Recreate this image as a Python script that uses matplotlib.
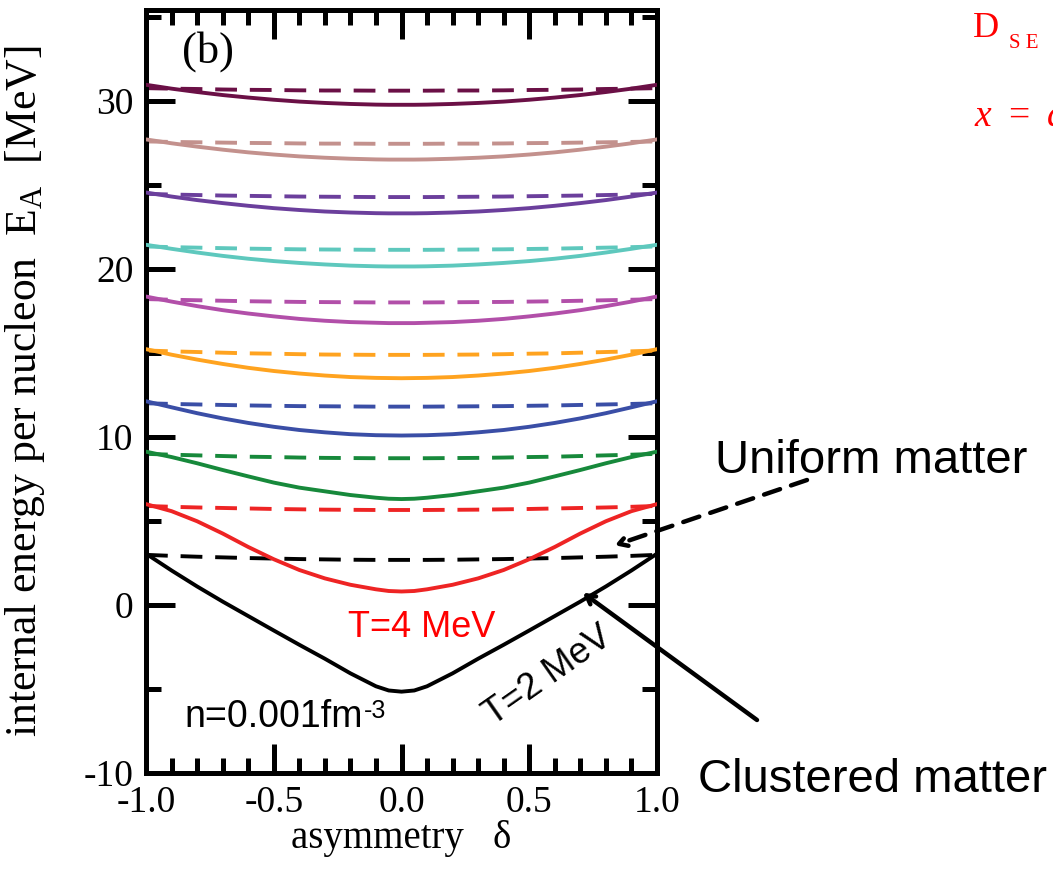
import numpy as np
import matplotlib
matplotlib.use("Agg")
import matplotlib.pyplot as plt
from matplotlib.ticker import MultipleLocator

# Asymmetry grid (delta >= 0); every curve is symmetric in delta
delta_half = [0.0, 0.05, 0.1, 0.2, 0.3, 0.4, 0.5, 0.6, 0.7, 0.8, 0.9, 1.0]

temperatures = [2, 4, 6, 8, 10, 12, 14, 16, 18, 20]
colors = ["#000000", "#ee2424", "#17893b", "#3a4ea6", "#ffa31f",
          "#b24fa9", "#5ec8bd", "#6b3f9c", "#c3918d", "#6b1046"]

# Clustered matter (solid lines), internal energy per nucleon [MeV]
clustered_T2 = [-5.16, -5.09, -4.84, -4.07, -3.2, -2.37, -1.52, -0.66, 0.2, 1.1, 2.05, 3.05]
clustered_T4 = [0.8, 0.83, 0.93, 1.2, 1.58, 2.08, 2.72, 3.45, 4.25, 4.98, 5.58, 6.0]
clustered_T6 = [6.3, 6.32, 6.38, 6.54, 6.76, 6.98, 7.28, 7.65, 8.03, 8.43, 8.8, 9.12]
clustered_T8 = [10.08, 10.09, 10.1, 10.16, 10.27, 10.41, 10.6, 10.83, 11.1, 11.41, 11.76, 12.12]
clustered_T10 = [13.49, 13.5, 13.51, 13.56, 13.65, 13.77, 13.92, 14.11, 14.34, 14.6, 14.89, 15.22]
clustered_T12 = [16.77, 16.77, 16.79, 16.83, 16.91, 17.02, 17.17, 17.34, 17.54, 17.78, 18.05, 18.35]
clustered_T14 = [20.14, 20.14, 20.15, 20.19, 20.26, 20.35, 20.46, 20.6, 20.77, 20.97, 21.19, 21.43]
clustered_T16 = [23.3, 23.3, 23.31, 23.35, 23.41, 23.5, 23.61, 23.75, 23.91, 24.09, 24.3, 24.54]
clustered_T18 = [26.5, 26.5, 26.51, 26.55, 26.61, 26.69, 26.8, 26.93, 27.09, 27.27, 27.47, 27.7]
clustered_T20 = [29.76, 29.76, 29.77, 29.81, 29.87, 29.95, 30.06, 30.19, 30.34, 30.52, 30.72, 30.95]

# Uniform matter (dashed lines)
uniform_T2 = [2.68, 2.68, 2.68, 2.69, 2.71, 2.73, 2.76, 2.79, 2.83, 2.87, 2.92, 2.98]
uniform_T4 = [5.65, 5.65, 5.65, 5.66, 5.67, 5.69, 5.71, 5.74, 5.77, 5.8, 5.84, 5.89]
uniform_T6 = [8.73, 8.73, 8.73, 8.74, 8.75, 8.77, 8.8, 8.82, 8.86, 8.9, 8.94, 8.99]
uniform_T8 = [11.8, 11.8, 11.8, 11.81, 11.82, 11.83, 11.85, 11.87, 11.9, 11.93, 11.96, 12.0]
uniform_T10 = [14.88, 14.88, 14.88, 14.89, 14.9, 14.92, 14.95, 14.97, 15.01, 15.05, 15.09, 15.14]
uniform_T12 = [18.0, 18.0, 18.0, 18.01, 18.02, 18.03, 18.05, 18.07, 18.1, 18.13, 18.16, 18.2]
uniform_T14 = [21.13, 21.13, 21.13, 21.14, 21.15, 21.16, 21.18, 21.2, 21.23, 21.26, 21.29, 21.33]
uniform_T16 = [24.27, 24.27, 24.27, 24.28, 24.29, 24.3, 24.32, 24.34, 24.36, 24.39, 24.42, 24.46]
uniform_T18 = [27.44, 27.44, 27.44, 27.45, 27.45, 27.46, 27.48, 27.49, 27.51, 27.53, 27.55, 27.58]
uniform_T20 = [30.6, 30.6, 30.6, 30.61, 30.61, 30.62, 30.64, 30.65, 30.67, 30.7, 30.72, 30.75]

clustered = [clustered_T2, clustered_T4, clustered_T6, clustered_T8, clustered_T10,
             clustered_T12, clustered_T14, clustered_T16, clustered_T18, clustered_T20]
uniform = [uniform_T2, uniform_T4, uniform_T6, uniform_T8, uniform_T10,
           uniform_T12, uniform_T14, uniform_T16, uniform_T18, uniform_T20]

x_ticks = [-1.0, -0.5, 0.0, 0.5, 1.0]
x_ticklabels = ["-1.0", "-0.5", "0.0", "0.5", "1.0"]
y_ticks = [-10, 0, 10, 20, 30]
y_ticklabels = ["-10", "0", "10", "20", "30"]


def mirrored(half):
    h = np.asarray(half, dtype=float)
    return np.concatenate([h[:0:-1], h])


delta_full = np.concatenate([-np.asarray(delta_half)[:0:-1], np.asarray(delta_half)])

plt.rcParams["mathtext.fontset"] = "custom"
plt.rcParams["mathtext.rm"] = "Liberation Serif"
plt.rcParams["mathtext.it"] = "Liberation Serif:italic"

W, H = 1053, 876
fig = plt.figure(figsize=(W / 100, H / 100), dpi=100)
ax = fig.add_axes([146 / W, 1 - 773 / H, (657 - 146) / W, (773 - 10) / H])

serif = "Liberation Serif"
sans = "Liberation Sans"

for c_vals, u_vals, col in zip(clustered, uniform, colors):
    ax.plot(delta_full, mirrored(u_vals), color=col, lw=2.8,
            dashes=(5.6, 3.3), dash_capstyle="butt", zorder=2)
    ax.plot(delta_full, mirrored(c_vals), color=col, lw=2.8, zorder=3)

ax.set_xlim(-1.0, 1.0)
ax.set_ylim(-10, 35.4)
ax.set_xticks(x_ticks)
ax.set_xticklabels(x_ticklabels, family=serif, fontsize=27)
ax.set_yticks(y_ticks)
ax.set_yticklabels(y_ticklabels, family=serif, fontsize=27)
ax.xaxis.set_minor_locator(MultipleLocator(0.1))
ax.yaxis.set_minor_locator(MultipleLocator(5))
ax.tick_params(which="both", direction="in", top=True, right=True, width=3.6, color="black")
ax.tick_params(which="major", length=21, pad=9)
ax.tick_params(which="minor", length=11)
for sp in ax.spines.values():
    sp.set_linewidth(3.6)

ax.set_xlabel("asymmetry   \u03b4", family=serif, fontsize=28)
ax.xaxis.set_label_coords(0.5, -0.061)
ax.set_ylabel(r"internal energy per nucleon  E$_{\rm A}$  [MeV]", family=serif, fontsize=31.5)
ax.yaxis.set_label_coords(-0.193, 0.5)

ax.text(0.07, 0.972, "(b)", transform=ax.transAxes, family=serif, fontsize=32,
        ha="left", va="top")

n_label = ax.text(0.075, 0.06, "n=0.001fm", transform=ax.transAxes,
                  family=sans, fontsize=27, ha="left", va="baseline")
ax.annotate("-3", xy=(1.0, 1.0), xycoords=n_label, xytext=(1, 0),
            textcoords="offset points", family=sans, fontsize=18,
            ha="left", va="top")
ax.text(-0.21, -1.9, "T=4 MeV", color="red", family=sans, fontsize=26,
        ha="left", va="baseline")
ax.text(0.575, -4.2, "T=2 MeV", color="black", family=sans, fontsize=26,
        rotation=35, ha="center", va="center", rotation_mode="anchor")


def fig_px(x, y):
    return (x / W, 1 - y / H)


# Annotations outside the frame
fig.text(*fig_px(715, 473), "Uniform matter", family=sans, fontsize=34,
         ha="left", va="baseline")
fig.text(*fig_px(698, 792), "Clustered matter", family=sans, fontsize=34,
         ha="left", va="baseline")

ax.annotate("", xy=(0.835, 3.55), xycoords="data",
            xytext=fig_px(807, 480), textcoords="figure fraction",
            annotation_clip=False,
            arrowprops=dict(arrowstyle="->,head_length=0.6,head_width=0.35",
                            lw=3.2, linestyle=(0, (3.8, 2.6)), color="black",
                            shrinkA=0, shrinkB=0))
ax.annotate("", xy=(0.71, 0.72), xycoords="data",
            xytext=fig_px(757, 720), textcoords="figure fraction",
            annotation_clip=False,
            arrowprops=dict(arrowstyle="->,head_length=0.6,head_width=0.35",
                            lw=3.2, color="black", shrinkA=0, shrinkB=0))

# Red notation at the top right
fig.text(*fig_px(973, 37), "D", color="red", family=serif, fontsize=26,
         ha="left", va="baseline")
fig.text(*fig_px(1009, 48), "S E", color="red", family=serif, fontsize=15,
         ha="left", va="baseline")
fig.text(*fig_px(974, 126), r"$x$", color="red", family=serif, fontsize=27,
         ha="left", va="baseline")
fig.text(*fig_px(1008, 126), "=", color="red", family=serif, fontsize=27,
         ha="left", va="baseline")
fig.text(*fig_px(1046, 126), r"$a$", color="red", family=serif, fontsize=27,
         ha="left", va="baseline")

fig.savefig("out.png", dpi=100)
